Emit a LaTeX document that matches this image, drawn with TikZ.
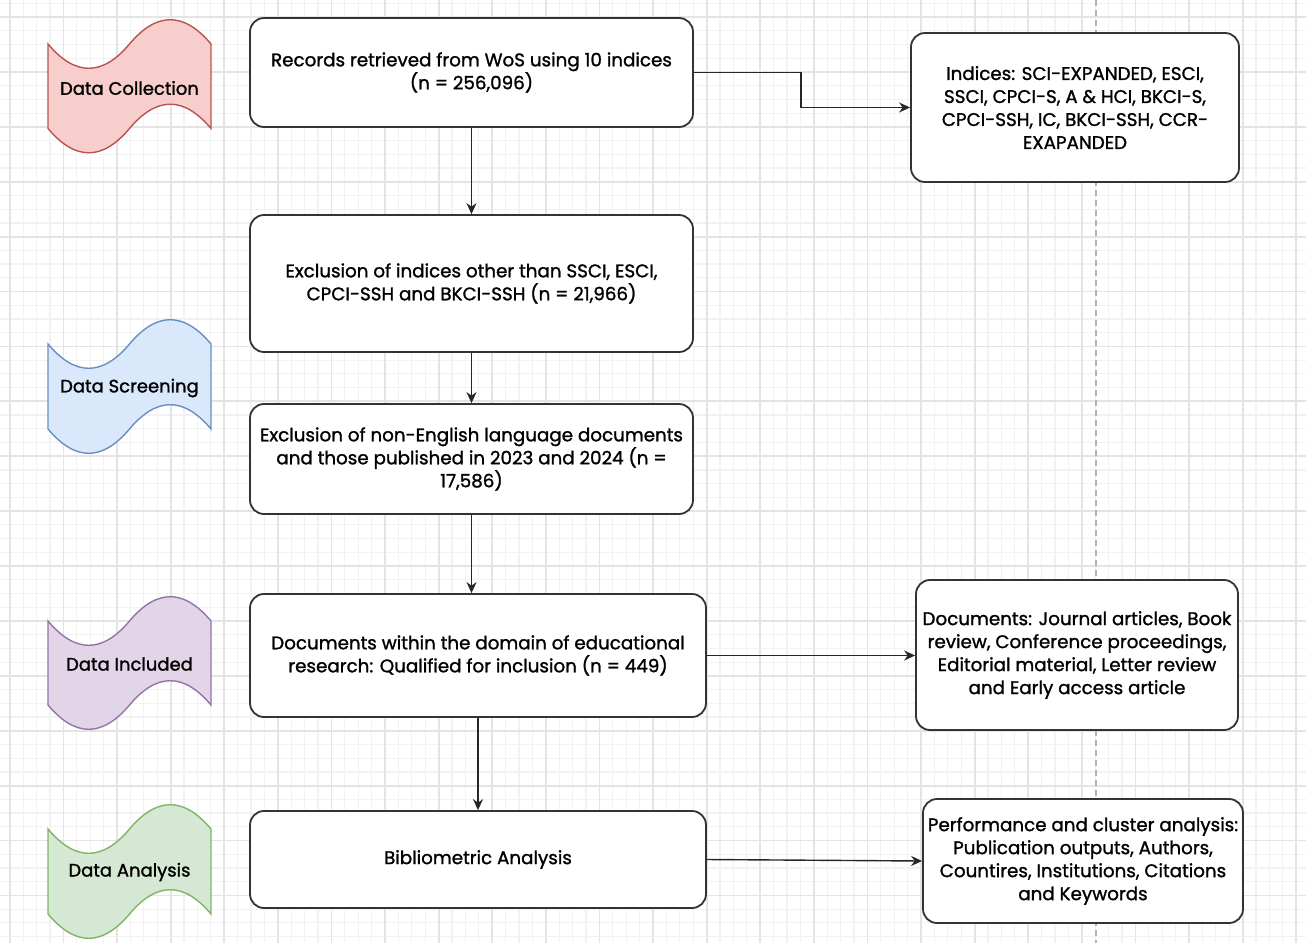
\documentclass[tikz,border=0pt]{standalone}
\usepackage{fontspec}
\setmainfont{Poppins}[FakeBold=1.3]
\usetikzlibrary{arrows.meta}

\definecolor{gridminor}{HTML}{F2F2F2}
\definecolor{gridmajor}{HTML}{E4E4E4}
\definecolor{boxline}{HTML}{333333}
\definecolor{redfill}{HTML}{F8CECC}\definecolor{redline}{HTML}{B85450}
\definecolor{bluefill}{HTML}{DAE8FC}\definecolor{blueline}{HTML}{6C8EBF}
\definecolor{purplefill}{HTML}{E1D5E7}\definecolor{purpleline}{HTML}{9673A6}
\definecolor{greenfill}{HTML}{D5E8D4}\definecolor{greenline}{HTML}{82B366}

% wavy band: #1 top corner y, #2 bottom corner y, #3 fill, #4 stroke
\newcommand{\tapeband}[4]{%
  \draw[fill=#3, draw=#4, line width=1.4]
    (48,#1) .. controls (75.17,#1+32.4) and (102.33,#1+32.4) .. (129.5,#1)
            .. controls (156.67,#1-32.4) and (183.83,#1-32.4) .. (211,#1)
    -- (211,#2) .. controls (183.83,#2-32.4) and (156.67,#2-32.4) .. (129.5,#2)
            .. controls (102.33,#2+32.4) and (75.17,#2+32.4) .. (48,#2) -- cycle;}

\tikzset{
  stepbox/.style={draw=boxline, line width=1.8, rounded corners=14, fill=white,
    align=center, inner sep=0pt, font=\fontsize{18.3}{23}\selectfont},
  bandtext/.style={align=center, inner sep=0pt, font=\fontsize{18}{23}\selectfont},
  flow/.style={-{Stealth[length=11,width=10]}, line width=1.4, draw=black!85},
}

\begin{document}
\begin{tikzpicture}[x=1pt,y=-1pt]
\useasboundingbox (0,0) rectangle (1306,943);
\fill[white] (0,0) rectangle (1306,943);

% background grid
\foreach \i in {0,...,98} \draw[gridminor, line width=1.2] ({-3.6+\i*13.4},0) -- ++(0,943);
\foreach \i in {0,...,68} \draw[gridminor, line width=1.2] (0,{3.3+\i*13.725}) -- ++(1306,0);
\foreach \i in {0,...,24} \draw[gridmajor, line width=1.8] ({9.8+\i*53.6},0) -- ++(0,943);
\foreach \i in {0,...,16} \draw[gridmajor, line width=1.8] (0,{17+\i*54.9}) -- ++(1306,0);

% guide line
\draw[draw=black!30, line width=1.2, dash pattern=on 6pt off 4pt] (1096,0) -- (1096,943);

% phase bands
\tapeband{44}{128.5}{redfill}{redline}
\tapeband{344}{429}{bluefill}{blueline}
\tapeband{621}{705}{purplefill}{purpleline}
\tapeband{829}{914}{greenfill}{greenline}
\node[bandtext] (p1) at (129.5,88) {Data Collection};
\node[bandtext] (p2) at (129.5,388) {Data Screening};
\node[bandtext] (p3) at (129.5,664) {Data Included};
\node[bandtext] (p4) at (129.5,872) {Data Analysis};

% main flow
\node[stepbox, minimum width=443, minimum height=109] (b1) at (471.5,72.5)
  {Records retrieved from WoS using 10 indices\\(n = 256,096)};
\node[stepbox, minimum width=443, minimum height=137] (b2) at (471.5,283.5)
  {Exclusion of indices other than SSCI, ESCI,\\CPCI-SSH and BKCI-SSH (n = 21,966)};
\node[stepbox, minimum width=443, minimum height=110] (b3) at (471.5,459)
  {Exclusion of non-English language documents\\and those published in 2023 and 2024 (n =\\17,586)};
\node[stepbox, minimum width=456, minimum height=123] (b4) at (478,655.5)
  {Documents within the domain of educational\\research: Qualified for inclusion (n = 449)};
\node[stepbox, minimum width=456, minimum height=97] (b5) at (478,859.5)
  {Bibliometric Analysis};

% side notes
\node[stepbox, minimum width=328, minimum height=149] (ra) at (1075,107.5)
  {Indices: SCI-EXPANDED, ESCI,\\SSCI, CPCI-S, A \& HCI, BKCI-S,\\CPCI-SSH, IC, BKCI-SSH, CCR-\\EXAPANDED};
\node[stepbox, minimum width=322, minimum height=150] (rb) at (1077,655)
  {Documents: Journal articles, Book\\review, Conference proceedings,\\Editorial material, Letter review\\and Early access article};
\node[stepbox, minimum width=320, minimum height=124] (rc) at (1083,861)
  {Performance and cluster analysis:\\Publication outputs, Authors,\\Countires, Institutions, Citations\\and Keywords};

% connectors
\coordinate (elb) at (801,107.5);
\draw[flow] (b1.east) -| (elb) -- (ra.west);
\draw[flow] (b1.south) -- (b2.north);
\draw[flow] (b2.south) -- (b3.north);
\draw[flow] (b3.south) -- (b3.south |- b4.north);
\draw[flow] (b4.south) -- (b5.north);
\draw[flow] (b4.east) -- (b4.east -| rb.west);
\draw[flow] (b5.east) -- (rc.west);
\end{tikzpicture}
\end{document}
